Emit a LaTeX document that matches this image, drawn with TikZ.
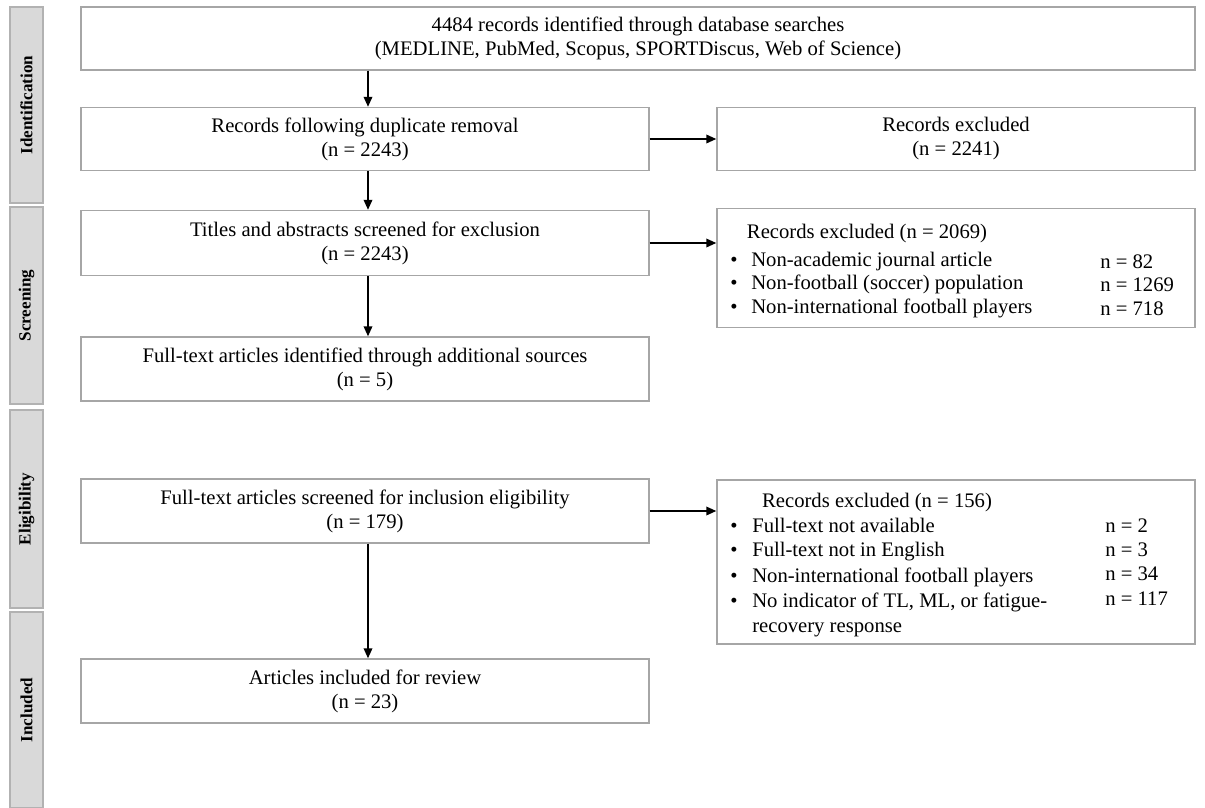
\documentclass[tikz,border=0pt]{standalone}
\usepackage{fontspec}
\setmainfont{Liberation Serif}
\usetikzlibrary{arrows.meta}
\begin{document}
\begin{tikzpicture}[x=0.75pt,y=-0.75pt,
  bar/.style={draw=black!30,fill=black!15,line width=0.9pt,inner sep=0pt},
  bartext/.style={rotate=90,font=\fontsize{12.8}{14}\selectfont\bfseries},
  box/.style={draw=black!35,line width=1.1pt,inner sep=0pt,align=center,
    font=\fontsize{15.5}{18}\selectfont},
  txt/.style={inner sep=0pt,font=\fontsize{15.5}{18}\selectfont},
  arr/.style={-{Triangle[length=7.5pt,width=6.5pt]},line width=1.1pt,black}]
\useasboundingbox (0,0) rectangle (1205,807);
% side bars
\node[bar,minimum width=24.75pt,minimum height=147pt] (b1) at (26.5,105) {};
\node[bartext] (t1) at (b1) {Identification};
\node[bar,minimum width=24.75pt,minimum height=147.75pt] (b2) at (26.5,305.5) {};
\node[bartext] (t2) at (b2) {Screening};
\node[bar,minimum width=24.75pt,minimum height=148.5pt] (b3) at (26.5,509) {};
\node[bartext] (t3) at (b3) {Eligibility};
\node[bar,minimum width=24.75pt,minimum height=147pt] (b4) at (26.5,710) {};
\node[bartext] (t4) at (b4) {Included};
% main boxes
\node[box,minimum width=835.5pt,minimum height=47.25pt] (n1) at (638,38.5)
  {4484 records identified through database searches\\(MEDLINE, PubMed, Scopus, SPORTDiscus, Web of Science)};
\node[box,minimum width=426pt,minimum height=47.25pt] (n2) at (365,139)
  {Records following duplicate removal\\(n = 2243)};
\node[box,minimum width=358.5pt,minimum height=47.25pt] (r1) at (956,139)
  {Records excluded\\(n = 2241)};
\node[box,minimum width=426pt,minimum height=48.75pt] (n3) at (365,243)
  {Titles and abstracts screened for exclusion\\(n = 2243)};
\node[box,minimum width=358.5pt,minimum height=89.25pt] (r2) at (956,268) {};
\node[box,minimum width=426pt,minimum height=48pt] (n4) at (365,369)
  {Full-text articles identified through additional sources\\(n = 5)};
\node[box,minimum width=426pt,minimum height=48pt] (n5) at (365,511)
  {Full-text articles screened for inclusion eligibility\\(n = 179)};
\node[box,minimum width=358.5pt,minimum height=123pt] (r3) at (956,562) {};
\node[box,minimum width=426pt,minimum height=48pt] (n6) at (365,691)
  {Articles included for review\\(n = 23)};
% text of excluded box 2
\node[txt,anchor=base] (h2) at (867,238) {Records excluded (n = 2069)};
\node[txt,anchor=base] (p21) at (734,266) {•};
\node[txt,anchor=base west] (a21) at (751,266) {Non-academic journal article};
\node[txt,anchor=base west] (c21) at (1100,268) {n = 82};
\node[txt,anchor=base] (p22) at (734,289) {•};
\node[txt,anchor=base west] (a22) at (751,289) {Non-football (soccer) population};
\node[txt,anchor=base west] (c22) at (1100,291) {n = 1269};
\node[txt,anchor=base] (p23) at (734,313) {•};
\node[txt,anchor=base west] (a23) at (751,313) {Non-international football players};
\node[txt,anchor=base west] (c23) at (1100,315) {n = 718};
% text of excluded box 3
\node[txt,anchor=base] (h3) at (877,507) {Records excluded (n = 156)};
\node[txt,anchor=base] (p31) at (734,532) {•};
\node[txt,anchor=base west] (a31) at (752,532) {Full-text not available};
\node[txt,anchor=base west] (c31) at (1105,532) {n = 2};
\node[txt,anchor=base] (p32) at (734,556) {•};
\node[txt,anchor=base west] (a32) at (752,556) {Full-text not in English};
\node[txt,anchor=base west] (c32) at (1105,556) {n = 3};
\node[txt,anchor=base] (p33) at (734,582) {•};
\node[txt,anchor=base west] (a33) at (752,582) {Non-international football players};
\node[txt,anchor=base west] (c33) at (1105,580) {n = 34};
\node[txt,anchor=base] (p34) at (734,607) {•};
\node[txt,anchor=base west] (a34) at (752,607) {No indicator of TL, ML, or fatigue-};
\node[txt,anchor=base west] (c34) at (1105,605) {n = 117};
\node[txt,anchor=base west] (a35) at (752,632) {recovery response};
% connectors
\coordinate (ax) at (368,0);
\draw[arr] (n1.south -| ax) -- (n2.north -| ax);
\draw[arr] (n2.south -| ax) -- (n3.north -| ax);
\draw[arr] (n3.south -| ax) -- (n4.north -| ax);
\draw[arr] (n5.south -| ax) -- (n6.north -| ax);
\draw[arr] (n2.east) -- (r1.west);
\draw[arr] (n3.east) -- (n3.east -| r2.west);
\draw[arr] (n5.east) -- (n5.east -| r3.west);
\end{tikzpicture}
\end{document}
